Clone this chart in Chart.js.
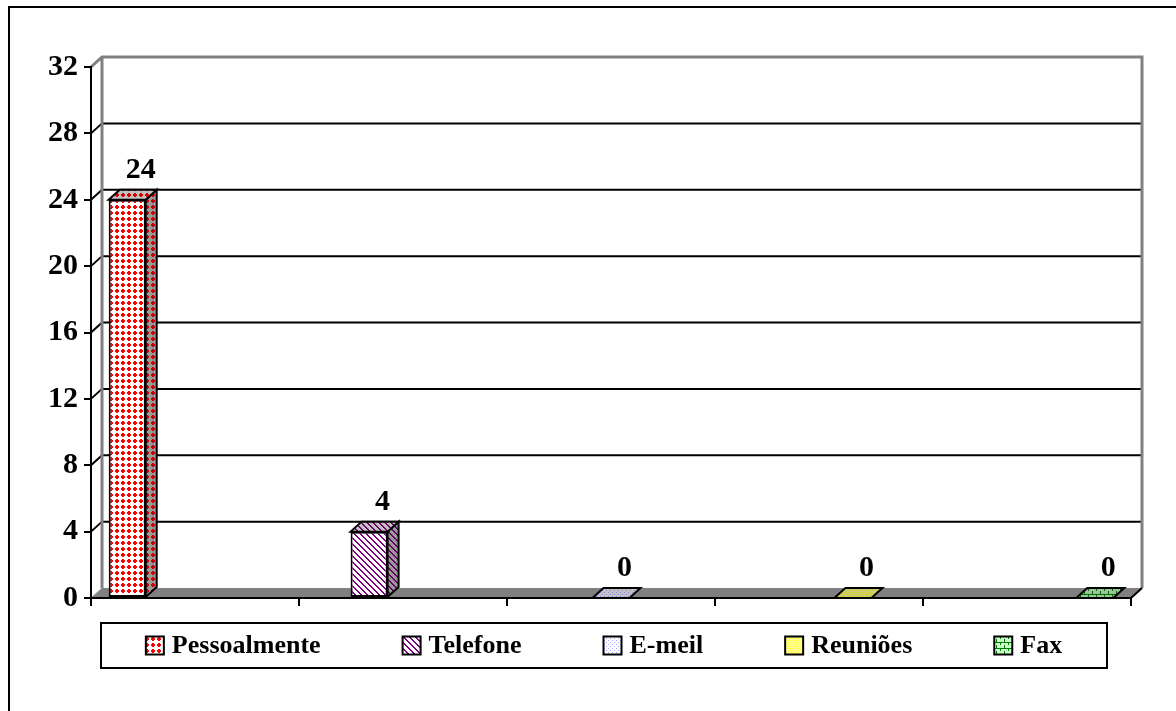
<!DOCTYPE html>
<html>
<head>
<meta charset="utf-8">
<script src="https://cdn.jsdelivr.net/npm/chart.js@4.4.1/dist/chart.umd.min.js"></script>
<style>
  html, body { margin: 0; padding: 0; background: #ffffff; }
  #wrap { position: relative; width: 1176px; height: 711px; }
</style>
</head>
<body>
<div id="wrap"><canvas id="chart" width="1176" height="711"></canvas></div>
<script>
// Contact channels and how many times each was used
const seriesNames = ['Pessoalmente', 'Telefone', 'E-meil', 'Reuniões', 'Fax'];
const seriesValues = [24, 4, 0, 0, 0];
const categoryLabels = [''];
const yMin = 0;
const yMax = 32;
const yStep = 4;

const FONT = '"Liberation Serif", "Times New Roman", serif';
const DX = 11;   // depth offset to the right
const DY = 10;   // depth offset upwards
const WALL = '#808080';

// Pixel-pattern fills (front, top and side faces)
const fillSpecs = [
  { bg: '#ffffff', fg: '#ff0000', w: 6, h: 6,
    test: (i, j) => (i >= 1 && i <= 4 && j >= 2 && j <= 3) || (j >= 1 && j <= 4 && i >= 2 && i <= 3) },
  { bg: '#ffffff', fg: '#800080', w: 6, h: 6,
    test: (i, j) => ((i - j + 12) % 6) < 2 },
  { bg: '#ffffff', fg: '#a0a0ff', w: 4, h: 4,
    test: (i, j) => (i === 0 && j === 0) || (i === 2 && j === 2) },
  { bg: '#ffffa0', fg: '#ffff50', w: 2, h: 2,
    test: (i, j) => (i + j) % 2 === 0 },
  { bg: '#ccffcc', fg: '#008000', w: 8, h: 6,
    test: (i, j) => j === 0 || (j < 3 ? i === 0 : i === 4) }
];

function shade(hex, f) {
  const n = parseInt(hex.slice(1), 16);
  const r = Math.round(((n >> 16) & 255) * f);
  const g = Math.round(((n >> 8) & 255) * f);
  const b = Math.round((n & 255) * f);
  return 'rgb(' + r + ',' + g + ',' + b + ')';
}

function makePattern(spec, f, fgF) {
  const c = document.createElement('canvas');
  c.width = spec.w; c.height = spec.h;
  const x = c.getContext('2d');
  x.fillStyle = f === 1 ? spec.bg : shade(spec.bg, f);
  x.fillRect(0, 0, spec.w, spec.h);
  x.fillStyle = fgF === 1 ? spec.fg : shade(spec.fg, fgF);
  for (let j = 0; j < spec.h; j++) {
    for (let i = 0; i < spec.w; i++) {
      if (spec.test(i, j)) x.fillRect(i, j, 1, 1);
    }
  }
  return x.createPattern(c, 'repeat');
}

const frontFills = fillSpecs.map(s => makePattern(s, 1, 1));
const topFills = fillSpecs.map(s => makePattern(s, 0.76, 0.85));
const sideFills = fillSpecs.map(s => makePattern(s, 0.6, 0.8));

// Back wall, side wall and floor drawn behind the axes
const wallsPlugin = {
  id: 'walls',
  beforeDraw(chart) {
    const { ctx, chartArea: a } = chart;
    const ys = chart.scales.y;
    ctx.save();
    ctx.fillStyle = '#ffffff';
    ctx.fillRect(0, 0, chart.width, chart.height);

    const bx = a.left + DX;
    const bxr = a.right + DX;
    // gridlines on the back wall
    for (let v = yMin + yStep; v < yMax; v += yStep) {
      const yp = ys.getPixelForValue(v);
      ctx.strokeStyle = '#000000';
      ctx.lineWidth = 2;
      ctx.beginPath();
      ctx.moveTo(a.left, yp);
      ctx.lineTo(bx, yp - DY);
      ctx.lineTo(bxr, yp - DY);
      ctx.stroke();
    }
    // wall outline
    const yTop = ys.getPixelForValue(yMax);
    const yBot = ys.getPixelForValue(yMin);
    ctx.strokeStyle = WALL;
    ctx.lineWidth = 3;
    ctx.beginPath();
    ctx.moveTo(a.left, yTop);
    ctx.lineTo(bx, yTop - DY);
    ctx.lineTo(bxr, yTop - DY);
    ctx.lineTo(bxr, yBot - DY);
    ctx.moveTo(bx, yTop - DY);
    ctx.lineTo(bx, yBot - DY);
    ctx.stroke();
    // floor
    ctx.fillStyle = WALL;
    ctx.beginPath();
    ctx.moveTo(a.left, yBot);
    ctx.lineTo(bx, yBot - DY);
    ctx.lineTo(bxr, yBot - DY);
    ctx.lineTo(a.right, yBot);
    ctx.closePath();
    ctx.fill();
    ctx.strokeStyle = '#a0a0a0';
    ctx.lineWidth = 1;
    ctx.beginPath();
    ctx.moveTo(a.left, yBot);
    ctx.lineTo(bx, yBot - DY);
    ctx.stroke();
    ctx.strokeStyle = '#000000';
    ctx.lineWidth = 2;
    ctx.beginPath();
    ctx.moveTo(a.right, yBot);
    ctx.lineTo(bxr, yBot - DY);
    ctx.stroke();
    ctx.restore();
  }
};

// Top and side faces of each column, value labels, legend and frame
const facesPlugin = {
  id: 'faces',
  afterDatasetsDraw(chart) {
    const { ctx } = chart;
    ctx.save();
    ctx.lineJoin = 'miter';
    chart.data.datasets.forEach((ds, i) => {
      const meta = chart.getDatasetMeta(i);
      meta.data.forEach((bar, k) => {
        const p = bar.getProps(['x', 'y', 'base', 'width'], true);
        const l = p.x - p.width / 2;
        const r = p.x + p.width / 2;
        const t = Math.min(p.y, p.base);
        const b = p.base;
        // side face
        if (b - t > 1) {
          ctx.fillStyle = sideFills[i];
          ctx.beginPath();
          ctx.moveTo(r, t);
          ctx.lineTo(r + DX, t - DY);
          ctx.lineTo(r + DX, b - DY);
          ctx.lineTo(r, b);
          ctx.closePath();
          ctx.fill();
          ctx.strokeStyle = '#000000';
          ctx.lineWidth = 2;
          ctx.stroke();
        }
        // top face
        ctx.fillStyle = topFills[i];
        ctx.beginPath();
        ctx.moveTo(l, t);
        ctx.lineTo(l + DX, t - DY);
        ctx.lineTo(r + DX, t - DY);
        ctx.lineTo(r, t);
        ctx.closePath();
        ctx.fill();
        ctx.strokeStyle = '#000000';
        ctx.lineWidth = 2;
        ctx.stroke();
        // value label
        ctx.fillStyle = '#000000';
        ctx.font = 'bold 30px ' + FONT;
        ctx.textAlign = 'center';
        ctx.textBaseline = 'alphabetic';
        ctx.fillText(String(ds.data[k]), p.x + DX / 2 + 8, t - DY - 12);
      });
    });
    ctx.restore();
  },
  afterDraw(chart) {
    const { ctx } = chart;
    ctx.save();
    // legend box
    const boxL = 101, boxT = 623, boxR = 1107, boxB = 668;
    ctx.strokeStyle = '#000000';
    ctx.lineWidth = 2;
    ctx.strokeRect(boxL, boxT, boxR - boxL, boxB - boxT);
    ctx.font = 'bold 26px ' + FONT;
    const sq = 18, gapText = 8, gapItem = 82;
    const widths = chart.data.datasets.map(ds => sq + gapText + ctx.measureText(ds.label).width);
    const total = widths.reduce((s, w) => s + w, 0) + gapItem * (widths.length - 1);
    let x = (boxL + boxR) / 2 - total / 2;
    const cy = (boxT + boxB) / 2;
    chart.data.datasets.forEach((ds, i) => {
      ctx.fillStyle = frontFills[i];
      ctx.fillRect(x, cy - sq / 2, sq, sq);
      ctx.strokeStyle = '#000000';
      ctx.lineWidth = 2;
      ctx.strokeRect(x, cy - sq / 2, sq, sq);
      ctx.fillStyle = '#000000';
      ctx.textAlign = 'left';
      ctx.textBaseline = 'middle';
      ctx.fillText(ds.label, x + sq + gapText, cy + 1);
      x += widths[i] + gapItem;
    });
    // outer frame
    ctx.strokeStyle = '#000000';
    ctx.lineWidth = 2;
    ctx.beginPath();
    ctx.moveTo(9, chart.height);
    ctx.lineTo(9, 7);
    ctx.lineTo(chart.width, 7);
    ctx.stroke();
    ctx.restore();
  }
};

const datasets = seriesNames.map((name, i) => ({
  label: name,
  data: [seriesValues[i]],
  backgroundColor: frontFills[i],
  borderColor: '#000000',
  borderWidth: 2,
  borderSkipped: false,
  categoryPercentage: 1.163,
  barPercentage: 0.153
}));

new Chart(document.getElementById('chart'), {
  type: 'bar',
  data: { labels: categoryLabels, datasets },
  options: {
    responsive: false,
    animation: false,
    devicePixelRatio: 1,
    layout: { padding: { left: 10, right: 45, top: 67, bottom: 105 } },
    plugins: { legend: { display: false }, tooltip: { enabled: false } },
    scales: {
      x: {
        type: 'category',
        position: 'bottom',
        weight: 0,
        ticks: { display: false },
        grid: { display: false },
        border: { display: true, color: '#000000', width: 2 },
        afterFit: s => { s.height = 0; }
      },
      x2: {
        type: 'linear',
        position: 'bottom',
        weight: 1,
        min: 0,
        max: 5,
        offset: false,
        ticks: { display: false, stepSize: 1 },
        grid: { offset: false, drawOnChartArea: false, drawTicks: true, tickLength: 8, color: '#000000', lineWidth: 2 },
        border: { display: false },
        afterFit: s => { s.height = 8; }
      },
      y: {
        type: 'linear',
        min: yMin,
        max: yMax,
        ticks: {
          stepSize: yStep,
          color: '#000000',
          padding: 6,
          font: { family: FONT, size: 30, weight: 'bold' }
        },
        grid: { drawOnChartArea: false, drawTicks: true, tickLength: 7, color: '#000000', lineWidth: 2 },
        border: { display: true, color: '#000000', width: 2 },
        afterFit: s => { s.width = 81; }
      }
    }
  },
  plugins: [wallsPlugin, facesPlugin]
});
</script>
</body>
</html>
